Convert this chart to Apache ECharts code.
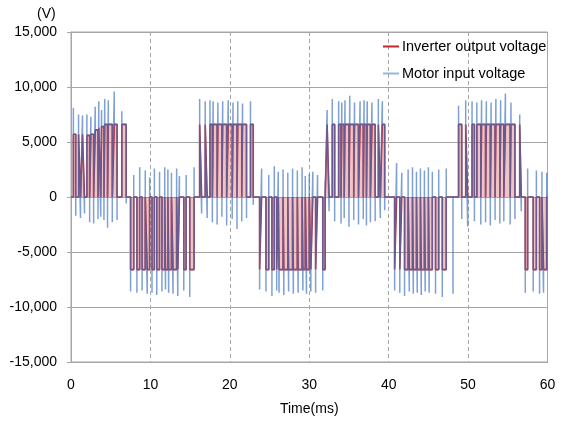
<!DOCTYPE html>
<html>
<head>
<meta charset="utf-8">
<script src="https://cdn.jsdelivr.net/npm/echarts@6/dist/echarts.min.js"></script>
<style>html,body{margin:0;padding:0;background:#fff;}#c{width:566px;height:423px;}</style>
</head>
<body>
<div id="c"></div>
<script>
// Axis ticks
const xTicks = [0, 10, 20, 30, 40, 50, 60];
const yTicks = [-15000, -10000, -5000, 0, 5000, 10000, 15000];
const seriesNames = ['Inverter output voltage', 'Motor input voltage'];

// Pulses: [start ms, end ms, inverter level V, motor peak at start V, motor peak at end V]
const posBlock1 = [
  [0.3, 0.6, 5700, 8100, -1700], [0.95, 1.2, 5700, 7500, -1900], [1.45, 1.7, 5700, 7400, -1500],
  [2.0, 2.35, 5600, 7500, -2300], [2.5, 2.85, 5700, 7300, -2400], [3.05, 3.4, 6100, 8200, -2000],
  [3.5, 3.75, 6300, 8700, -1800], [3.85, 4.15, 6400, 7900, -2100], [4.25, 4.6, 6600, 8900, -2800],
  [4.7, 5.2, 6600, 8800, -2300], [5.45, 5.8, 6600, 9600, -2100], [6.4, 6.95, 6600, 7800, -600]
];
const negBlock1 = [
  [7.5, 7.9, -6600, -8600, 2000], [8.3, 8.65, -6600, -8700, 2700], [8.95, 9.35, -6600, -8500, 2400],
  [9.6, 9.9, -6600, -8800, 1800], [10.2, 10.5, -6600, -8700, 2600], [10.8, 11.15, -6600, -8900, 2300],
  [11.45, 11.8, -6600, -8600, 2700], [11.9, 12.2, -6600, -8400, 2500], [12.3, 12.65, -6600, -8700, 2200],
  [12.85, 13.3, -6600, -8800, 2600], [13.45, 13.65, -6600, -9000, 1900], [14.2, 14.5, -6600, -8500, 2000],
  [14.95, 15.5, -6600, -9100, 2700]
];
const posBlock2 = [
  [16.2, 16.45, 6600, 8900, -1500], [16.9, 17.15, 6600, 8700, -1900], [17.5, 17.8, 6600, 8800, -2300],
  [17.9, 18.4, 6600, 8700, -2500], [18.5, 19.0, 6600, 8600, -1800], [19.1, 19.6, 6600, 8700, -2600],
  [19.8, 20.3, 6600, 8800, -2000], [20.4, 20.9, 6600, 8600, -2900], [21.0, 21.5, 6600, 8700, -2200],
  [21.6, 22.1, 6600, 8500, -1900], [22.6, 22.95, 6600, 8700, -700]
];
const negBlock2 = [
  [23.75, 24.0, -6600, -8400, 2600], [24.55, 24.9, -6600, -8600, 2000], [25.3, 25.6, -6600, -9000, 2800],
  [25.9, 26.1, -6600, -8500, 2300], [26.2, 26.7, -6600, -8700, 2500], [26.8, 27.3, -6600, -8900, 2200],
  [27.4, 27.9, -6600, -8600, 2600], [28.0, 28.5, -6600, -8800, 2400], [28.6, 29.1, -6600, -8700, 2700],
  [29.2, 29.5, -6600, -8500, 1900], [29.65, 30.0, -6600, -8800, 2100], [30.2, 30.45, -6600, -8600, 2300],
  [30.8, 31.05, -6600, -8700, 2000], [31.7, 32.0, -6600, -8500, 1400]
];
const posBlock3 = [
  [32.25, 32.5, 6600, 7900, -1300], [32.9, 33.2, 6600, 8900, -2200], [33.7, 34.0, 6600, 8700, -2400],
  [34.1, 34.4, 6600, 8600, -1900], [34.5, 35.0, 6600, 8800, -2700], [35.1, 35.6, 6600, 9200, -2100],
  [35.7, 36.2, 6600, 8600, -2500], [36.4, 36.8, 6600, 8700, -2000], [36.9, 37.2, 6600, 8800, -2600],
  [37.3, 37.7, 6600, 8700, -2300], [37.9, 38.3, 6600, 8600, -2200], [38.7, 38.95, 6600, 8900, -1900],
  [39.2, 39.5, 6600, 8700, -1200]
];
const negBlock3 = [
  [40.75, 41.0, -6600, -8500, 3100], [41.4, 41.65, -6600, -8700, 2200], [42.0, 42.45, -6600, -9000, 2500],
  [42.6, 43.0, -6600, -8600, 2700], [43.1, 43.5, -6600, -8800, 2300], [43.6, 44.0, -6600, -8700, 2600],
  [44.1, 44.5, -6600, -8900, 2400], [44.6, 45.0, -6600, -8600, 2700], [45.1, 45.5, -6600, -8700, 2300],
  [45.9, 46.3, -6600, -8800, 2500], [46.75, 47.25, -6600, -9100, 2600]
];
const posBlock4 = [
  [48.8, 49.2, 6600, 8300, -2000], [49.7, 49.95, 6600, 8800, -2700], [50.5, 50.8, 6600, 8700, -2200],
  [51.1, 51.6, 6600, 8600, -2500], [51.7, 52.2, 6600, 8800, -2300], [52.3, 52.8, 6600, 8700, -2600],
  [52.9, 53.4, 6600, 8600, -2100], [53.5, 54.0, 6600, 8900, -2400], [54.1, 54.5, 6600, 8800, -2200],
  [54.7, 55.3, 6600, 9400, -2500], [55.4, 55.9, 6600, 8600, -2000], [56.5, 56.7, 6600, 7500, -1300]
];
const negBlock4 = [
  [57.2, 57.5, -6600, -8700, 2600], [58.2, 58.6, -6600, -8600, 2400], [59.0, 59.3, -6600, -8800, 2300],
  [59.5, 59.9, -6600, -8700, 2200]
];
// Motor-only spikes: [time ms, peak V]
const motorLoneSpikes = [[48.1, -8800]];

const pulses = [].concat(posBlock1, negBlock1, posBlock2, negBlock2, posBlock3, negBlock3, posBlock4, negBlock4);

const inverterData = [[xTicks[0], 0]];
pulses.forEach(p => { inverterData.push([p[0], 0], [p[0], p[2]], [p[1], p[2]], [p[1], 0]); });
inverterData.push([xTicks[xTicks.length - 1], 0]);

const motorEvents = [];
pulses.forEach(p => motorEvents.push({ t: p[0], pts: [[p[0], 0], [p[0], p[3]], [p[0], p[2]], [p[1], p[2]], [p[1], p[4]], [p[1], 0]] }));
motorLoneSpikes.forEach(s => motorEvents.push({ t: s[0], pts: [[s[0], 0], [s[0], s[1]], [s[0], 0]] }));
motorEvents.sort((a, b) => a.t - b.t);
const motorData = [[xTicks[0], 0]];
motorEvents.forEach(e => e.pts.forEach(q => motorData.push(q)));
motorData.push([xTicks[xTicks.length - 1], 0]);

const FONT = 'Liberation Sans';
const chart = echarts.init(document.getElementById('c'), null, { renderer: 'canvas' });
chart.setOption({
  animation: false,
  backgroundColor: '#fff',
  textStyle: { fontFamily: FONT },
  grid: { left: 71, right: 18.5, top: 32, bottom: 61, show: true, borderColor: '#a6a6a6', borderWidth: 1 },
  graphic: [{ type: 'text', left: 37, top: 7, style: { text: '(V)', font: '14px ' + FONT, fill: '#000' } }],
  legend: {
    orient: 'vertical', left: 378, top: 34, itemGap: 12, itemWidth: 16, itemHeight: 2,
    icon: 'rect',
    textStyle: { fontFamily: FONT, fontSize: 14.5, color: '#000', padding: [0, 0, 0, -2] },
    data: seriesNames
  },
  xAxis: {
    type: 'value', min: xTicks[0], max: xTicks[xTicks.length - 1], interval: 10,
    name: 'Time(ms)', nameLocation: 'middle', nameGap: 40,
    nameTextStyle: { fontFamily: FONT, fontSize: 14, color: '#000' },
    axisLine: { show: true, onZero: false, lineStyle: { color: '#a6a6a6', width: 1 } },
    axisTick: { show: false },
    axisLabel: { margin: 16, fontFamily: FONT, fontSize: 14, color: '#000' },
    splitLine: { show: true, lineStyle: { color: '#a6a6a6', type: [4, 3], width: 1 } }
  },
  yAxis: {
    type: 'value', min: yTicks[0], max: yTicks[yTicks.length - 1], interval: 5000,
    axisLine: { show: true, onZero: false, lineStyle: { color: '#a6a6a6', width: 1 } },
    axisTick: { show: true, length: 4, lineStyle: { color: '#a6a6a6' } },
    axisLabel: { margin: 14, fontFamily: FONT, fontSize: 14, color: '#000',
      formatter: v => v.toLocaleString('en-US') },
    splitLine: { show: true, lineStyle: { color: '#a6a6a6', width: 1 } }
  },
  series: [
    {
      name: seriesNames[0], type: 'line', data: inverterData, symbol: 'none', showSymbol: false,
      itemStyle: { color: '#c0272d' },
      lineStyle: { color: '#c0272d', width: 1.6 },
      areaStyle: { color: 'rgba(205,70,75,0.45)', origin: 0 },
      z: 2
    },
    {
      name: seriesNames[1], type: 'line', data: motorData, symbol: 'none', showSymbol: false,
      itemStyle: { color: '#95b5de' },
      lineStyle: { color: 'rgba(65,115,190,0.68)', width: 1.5 },
      z: 3
    }
  ]
});
</script>
</body>
</html>
